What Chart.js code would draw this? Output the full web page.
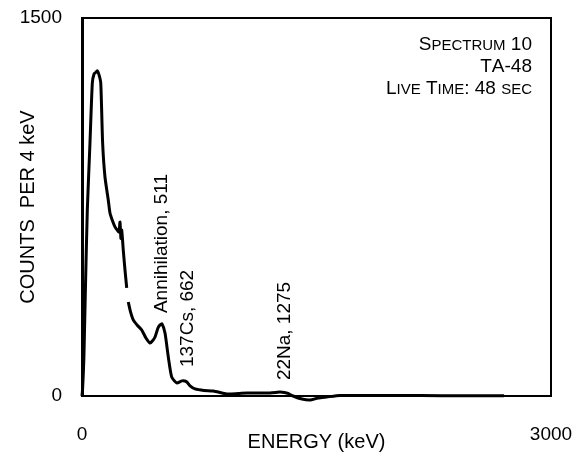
<!DOCTYPE html>
<html><head><meta charset="utf-8">
<script src="https://cdn.jsdelivr.net/npm/chart.js@4.4.1/dist/chart.umd.min.js"></script>
<style>html,body{margin:0;padding:0;background:#fff}</style>
</head><body>
<canvas id="c" width="576" height="462"></canvas>
<script>
// ---- data ----
const energyKeV = [0, 4, 12, 22, 34, 51, 66, 77, 90, 98, 109, 120, 132, 147, 168, 179, 195, 211, 230, 237, 243, 249, 254, 264, 275, 286, 291, 296, 310, 328, 355, 382, 409, 435, 450, 467, 486, 499, 512, 531, 552, 574, 606, 640, 670, 691, 723, 780, 840, 926, 1000, 1054, 1130, 1203, 1240, 1267, 1295, 1318, 1350, 1407, 1458, 1510, 1565, 1650, 1800, 2034, 2300, 2700];
const countsPer4keV = [0, 30, 150, 430, 738, 1004, 1242, 1278, 1285, 1290, 1274, 1242, 1004, 869, 778, 726, 695, 671, 655, 651, 690, 625, 659, 579, 500, 429, null, 373, 335, 302, 280, 262, 230, 210, 218, 234, 270, 282, 286, 250, 155, 75, 52, 60, 56, 40, 28, 22, 20, 8, 10, 12, 12, 12, 14, 16, 14, 10, 0, -12, -16, -8, -4, 2, 2, 2, 1, 1];
const xTickValues = [0, 3000];
const yTickValues = [0, 1500];
const xTitle = 'ENERGY (keV)';
const yTitle = 'COUNTS  PER 4 keV';
const peakLabels = ['Annihilation, 511', '137Cs, 662', '22Na, 1275'];
const peakLabelEnergy = [512, 678, 1299];
const peakLabelCounts = [329, 115, 63];
const infoLines = ['Spectrum 10', 'TA-48', 'Live Time: 48 sec'];

const FONT = '"Liberation Sans", Arial, Helvetica, sans-serif';

const points = energyKeV.map((e, i) => ({x: e, y: countsPer4keV[i]}));

function drawSmallCaps(ctx, text, xRight, yMid, big, small) {
  const parts = [];
  for (const ch of text) {
    const isLower = ch !== ch.toUpperCase();
    parts.push({t: ch.toUpperCase(), size: isLower ? small : big});
  }
  let total = 0;
  for (const p of parts) { ctx.font = p.size + 'px ' + FONT; p.w = ctx.measureText(p.t).width; total += p.w; }
  let x = xRight - total;
  ctx.textAlign = 'left';
  ctx.textBaseline = 'alphabetic';
  for (const p of parts) { ctx.font = p.size + 'px ' + FONT; ctx.fillText(p.t, x, yMid + big * 0.36); x += p.w; }
}

const decor = {
  id: 'decor',
  afterDatasetsDraw(chart) {
    const {ctx, chartArea: a, scales} = chart;
    ctx.save();
    ctx.strokeStyle = '#000';
    ctx.lineWidth = 2;
    ctx.strokeRect(a.left, a.top, a.right - a.left, a.bottom - a.top);
    ctx.fillStyle = '#000';
    ctx.font = '19px ' + FONT;
    peakLabels.forEach((t, i) => {
      const px = scales.x.getPixelForValue(peakLabelEnergy[i]);
      const py = scales.y.getPixelForValue(peakLabelCounts[i]);
      ctx.save();
      ctx.translate(px, py);
      ctx.rotate(-Math.PI / 2);
      ctx.textAlign = 'left';
      ctx.textBaseline = 'middle';
      ctx.fillText(t, 0, 0);
      ctx.restore();
    });
    const right = a.right - 19;
    infoLines.forEach((t, i) => {
      drawSmallCaps(ctx, t, right, a.top + 25 + i * 22, 19, 15);
    });
    ctx.restore();
  }
};

new Chart(document.getElementById('c'), {
  type: 'line',
  data: {
    datasets: [{
      data: points,
      borderColor: '#000',
      borderWidth: 3,
      pointRadius: 0,
      tension: 0.2,
      spanGaps: false,
      clip: false,
      fill: false
    }]
  },
  options: {
    responsive: false,
    animation: false,
    devicePixelRatio: 1,
    layout: {padding: {top: 18, right: 25, left: 0, bottom: 0}},
    plugins: {legend: {display: false}, tooltip: {enabled: false}},
    scales: {
      x: {
        type: 'linear', min: 0, max: 3000,
        afterBuildTicks: s => { s.ticks = xTickValues.map(v => ({value: v})); },
        afterFit: s => { s.height = 66; s.paddingLeft = 0; s.paddingRight = 0; },
        grid: {display: false, drawTicks: false},
        border: {display: true, color: '#000', width: 2},
        ticks: {padding: 27, color: '#000', font: {family: FONT, size: 19}, maxRotation: 0, autoSkip: false, callback: v => String(v)},
        title: {display: true, text: xTitle, color: '#000', font: {family: FONT, size: 20}, padding: {top: 0, bottom: 8}}
      },
      y: {
        type: 'linear', min: 0, max: 1500,
        afterBuildTicks: s => { s.ticks = yTickValues.map(v => ({value: v})); },
        afterFit: s => { s.width = 82; s.paddingTop = 0; s.paddingBottom = 0; },
        grid: {display: false, drawTicks: false},
        border: {display: true, color: '#000', width: 3},
        ticks: {padding: 20, color: '#000', font: {family: FONT, size: 19}, autoSkip: false, callback: v => String(v)},
        title: {display: true, text: yTitle, color: '#000', font: {family: FONT, size: 20}, padding: {top: 16, bottom: 0}}
      }
    }
  },
  plugins: [decor]
});
</script>
</body></html>
